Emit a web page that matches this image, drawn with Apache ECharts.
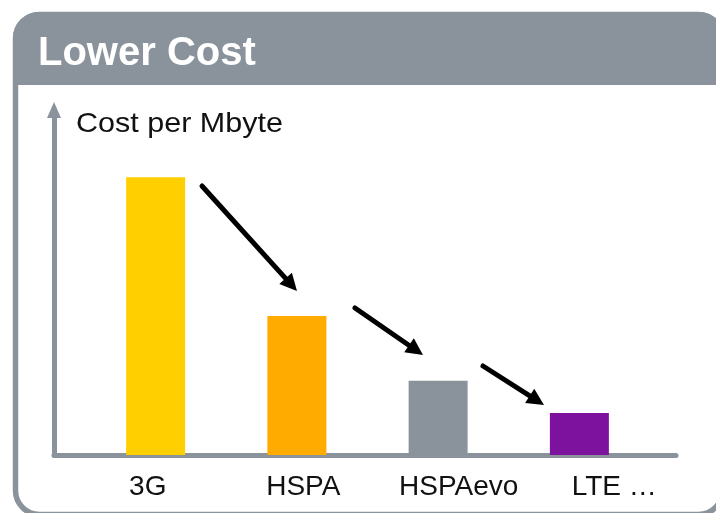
<!DOCTYPE html>
<html>
<head>
<meta charset="utf-8">
<script src="https://cdn.jsdelivr.net/npm/echarts@6/dist/echarts.min.js"></script>
<style>
  html, body { margin: 0; padding: 0; background: #fff; }
  #main { width: 716px; height: 513px; }
</style>
</head>
<body>
<div id="main"></div>
<script>
// chart data
const categories = ["3G", "HSPA", "HSPAevo", "LTE …"];
const costValues = [80.5, 40.3, 21.5, 12.2];

const grey = "#8a939b";
const font = "Arial, 'Liberation Sans', sans-serif";
const barColors = ["#ffcf00", "#ffab00", "#8a939b", "#7d129f"];

let chart = echarts.init(document.getElementById("main"));

// arrow between two points: a thick line plus a triangular head
function arrow(x1, y1, x2, y2) {
  let dx = x2 - x1, dy = y2 - y1;
  let len = Math.sqrt(dx * dx + dy * dy);
  let ux = dx / len, uy = dy / len;
  let head = 17, half = 8.5;
  let bx = x2 - ux * head, by = y2 - uy * head;
  return [
    {
      type: "line",
      z: 100,
      shape: { x1: x1, y1: y1, x2: bx + ux * 2, y2: by + uy * 2 },
      style: { stroke: "#000", lineWidth: 5, lineCap: "round" },
    },
    {
      type: "polygon",
      z: 100,
      shape: {
        points: [
          [x2, y2],
          [bx - uy * half, by + ux * half],
          [bx + uy * half, by - ux * half],
        ],
      },
      style: { fill: "#000" },
    },
  ];
}

let option = {
  animation: false,
  backgroundColor: "#fff",
  title: [
    {
      text: "Lower Cost",
      left: 38,
      top: 34,
      padding: 0,
      textStyle: { color: "#fff", fontSize: 40, fontWeight: "bold", fontFamily: font },
    },
  ],
  grid: [
    // axis lines
    { left: 54, right: 40, top: 110, bottom: 58 },
    // bars
    { left: 85, right: 66, top: 110, bottom: 58 },
    // category labels
    { left: 70, right: 24, top: 110, bottom: 58 },
  ],
  xAxis: [
    {
      gridIndex: 0,
      type: "value",
      min: 0,
      max: 1,
      axisLine: { show: true, lineStyle: { color: grey, width: 5 } },
      axisTick: { show: false },
      axisLabel: { show: false },
      splitLine: { show: false },
    },
    {
      gridIndex: 1,
      type: "category",
      data: categories,
      show: false,
    },
    {
      gridIndex: 2,
      type: "category",
      data: categories,
      axisLine: { show: false },
      axisTick: { show: false },
      axisLabel: { color: "#111", fontSize: 28, fontFamily: font, margin: 18 },
    },
  ],
  yAxis: [
    {
      gridIndex: 0,
      type: "value",
      min: 0,
      max: 1,
      axisLine: {
        show: true,
        symbol: ["none", "triangle"],
        symbolSize: [14, 16],
        lineStyle: { color: grey, width: 5 },
      },
      axisTick: { show: false },
      axisLabel: { show: false },
      splitLine: { show: false },
    },
    { gridIndex: 1, type: "value", min: 0, max: 100, show: false },
    { gridIndex: 2, type: "value", min: 0, max: 1, show: false },
  ],
  series: [
    {
      type: "bar",
      xAxisIndex: 1,
      yAxisIndex: 1,
      barWidth: 59,
      data: costValues,
      itemStyle: {
        color: function (p) {
          return barColors[p.dataIndex];
        },
      },
    },
  ],
  graphic: [
    // card header and border
    {
      type: "rect",
      z: -10,
      shape: { x: 15.5, y: 14.5, width: 707, height: 500, r: 24 },
      style: { fill: "none", stroke: grey, lineWidth: 5.5 },
    },
    {
      type: "rect",
      z: -9,
      shape: { x: 13, y: 12, width: 712, height: 73, r: [26, 26, 0, 0] },
      style: { fill: grey },
    },
    // axis name, slightly wide as in the source
    {
      type: "text",
      x: 76,
      y: 138,
      scaleX: 1.09,
      originX: 0,
      style: {
        text: "Cost per Mbyte",
        fill: "#111",
        font: "28px " + font,
        verticalAlign: "bottom",
      },
    },
  ]
    .concat(arrow(202, 186, 297, 291))
    .concat(arrow(355, 308, 423, 355))
    .concat(arrow(483, 366, 544, 405)),
};

chart.setOption(option);
</script>
</body>
</html>
